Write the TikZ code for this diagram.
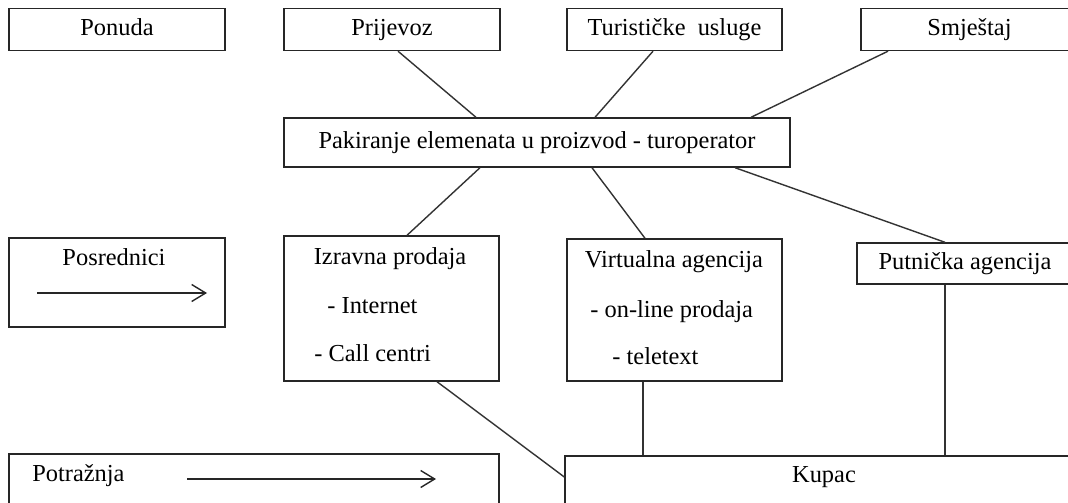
\documentclass[tikz,border=0pt]{standalone}
\usepackage{fontspec}
\setmainfont{Liberation Serif}
\usetikzlibrary{arrows.meta,calc}
\begin{document}
\begin{tikzpicture}[x=0.5pt,y=-0.5pt,
  every node/.style={font=\fontsize{12.2pt}{14pt}\selectfont, text=black},
  box/.style={draw=black!85, line width=0.7pt, inner sep=0pt, text height=0.8em, text depth=0.2em},
  conn/.style={draw=black!80, line width=0.7pt},
  arr/.style={draw=black!85, line width=0.7pt, -{Straight Barb[length=7pt,width=8.5pt]}},
  txt/.style={inner sep=0pt, anchor=base},
  txtl/.style={inner sep=0pt, anchor=base west}]
\useasboundingbox (0,0) rectangle (1068,502);
\clip (0,0) rectangle (1068,502);
\fill[white] (0,0) rectangle (1068,502);
% top row
\node[box, minimum width=108pt, minimum height=21pt] (pon) at (117,29.5) {Ponuda};
\node[box, minimum width=108pt, minimum height=21pt] (prij) at (392,29.5) {Prijevoz};
\node[box, minimum width=107.5pt, minimum height=21pt] (tur) at (674.5,29.5) {Turističke\ \ usluge};
\node[box, minimum width=108.5pt, minimum height=21pt] (smj) at (969.5,29.5) {Smještaj};
% packaging
\node[box, minimum width=253pt, minimum height=24.5pt] (pak) at (537,142.5) {Pakiranje elemenata u proizvod - turoperator};
% middle row
\node[box, minimum width=108pt, minimum height=44.5pt] (posr) at (117,282.5) {};
\node[txt] (posrt) at (114,265) {Posrednici};
\coordinate (pa1) at (37,293);
\coordinate (pa2) at (207,293);
\draw[arr] (pa1) -- (pa2);

\node[box, minimum width=107.5pt, minimum height=72.5pt] (izr) at (391.5,308.5) {};
\node[txt] (izr1) at (390,264) {Izravna prodaja};
\node[txtl] (izr2) at (327,313) {- Internet};
\node[txtl] (izr3) at (314,361) {- Call centri};

\node[box, minimum width=107.5pt, minimum height=71pt] (virt) at (674.5,310) {};
\node[txt] (virt1) at (674,267.5) {Virtualna agencija};
\node[txtl] (virt2) at (590,317) {- on-line prodaja};
\node[txtl] (virt3) at (612,364) {- teletext};

\node[box, minimum width=108pt, minimum height=20.5pt] (put) at (965,263.5) {Putnička agencija};
% bottom row
\node[box, minimum width=245pt, minimum height=38pt] (potr) at (254,492) {};
\node[txtl] (potrt) at (32,481.5) {Potražnja};
\coordinate (pb1) at (187,479);
\coordinate (pb2) at (436,479);
\draw[arr] (pb1) -- (pb2);

\node[box, minimum width=258pt, minimum height=37pt] (kup) at (823,493) {};
\node[txt] (kupt) at (824,482) {Kupac};
% connectors
\draw[conn] (398,0 |- prij.south) -- (476,0 |- pak.north);
\draw[conn] (653,0 |- tur.south) -- (595,0 |- pak.north);
\draw[conn] (888,0 |- smj.south) -- (751,0 |- pak.north);
\draw[conn] (480,0 |- pak.south) -- (407,0 |- izr.north);
\draw[conn] (592,0 |- pak.south) -- (645,0 |- virt.north);
\draw[conn] (735,0 |- pak.south) -- (945,0 |- put.north);
\draw[conn] (437,0 |- izr.south) -- (kup.west |- 0,477);
\draw[conn] (643,0 |- virt.south) -- (643,0 |- kup.north);
\draw[conn] (945,0 |- put.south) -- (945,0 |- kup.north);
\end{tikzpicture}
\end{document}
